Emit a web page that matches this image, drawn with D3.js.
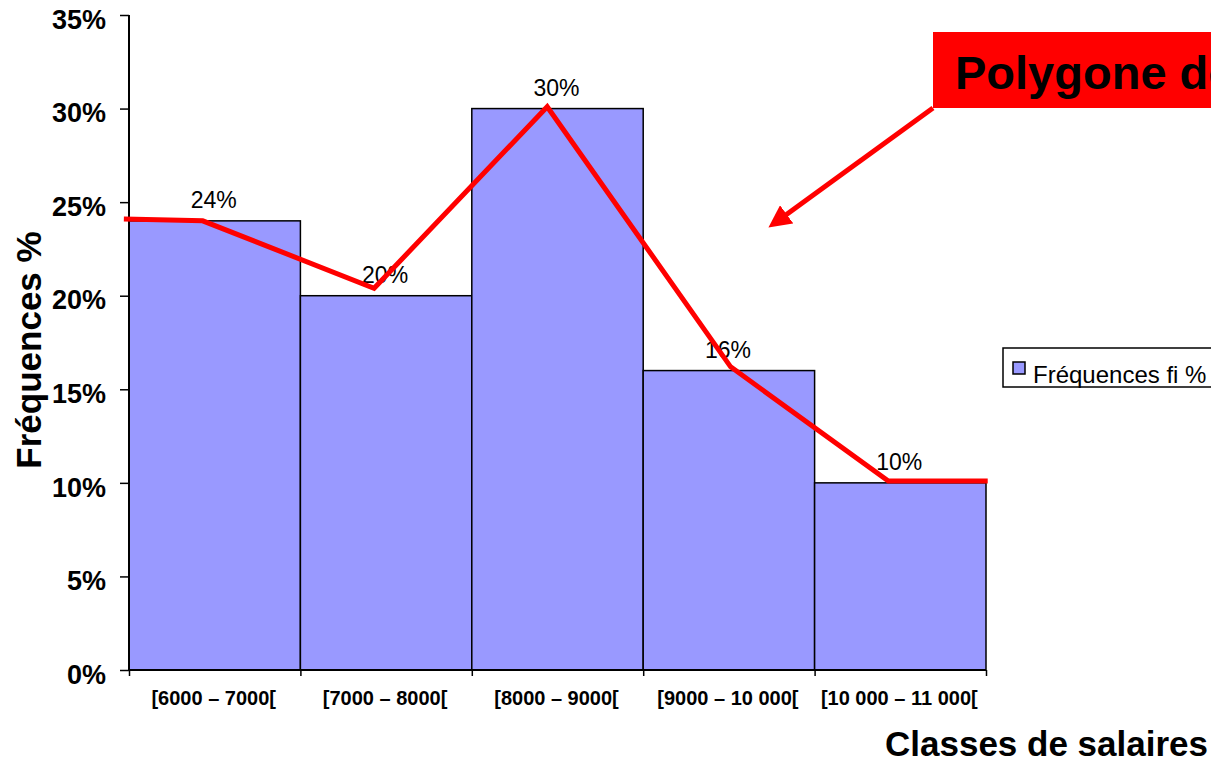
<!DOCTYPE html>
<meta charset="utf-8">
<style>
body { margin: 0; background: #fff; }
svg { font-family: "Liberation Sans", Arial, sans-serif; }
.bar { fill: #9999ff; stroke: #000; stroke-width: 1.5; }
</style>
<body>
<script src="https://cdnjs.cloudflare.com/ajax/libs/d3/7.8.5/d3.min.js"></script>
<script>
// data
var classes = ["[6000 – 7000[", "[7000 – 8000[", "[8000 – 9000[", "[9000 – 10 000[", "[10 000 – 11 000["];
var freq = [24, 20, 30, 16, 10];
var yTicks = [0, 5, 10, 15, 20, 25, 30, 35];
// polygon drawn by hand over the bars (x in class units, y in %)
var polyX = [-0.03, 0.43, 1.43, 2.44, 3.51, 4.43, 5.01];
var polyY = [24.1, 24.0, 20.4, 30.1, 16.2, 10.1, 10.1];

var width = 1211, height = 762;

var svg = d3.select("body").append("svg")
    .attr("width", width)
    .attr("height", height);

var x = d3.scaleLinear().domain([0, 5]).range([129, 986]);
var y = d3.scaleLinear().domain([0, 35]).range([670, 15]);

// bars
svg.selectAll(".bar")
    .data(freq)
  .enter().append("rect")
    .attr("class", "bar")
    .attr("x", function(d, i) { return x(i); })
    .attr("y", function(d) { return y(d); })
    .attr("width", function(d, i) { return x(i + 1) - x(i); })
    .attr("height", function(d) { return y(0) - y(d); });

// value labels
svg.selectAll(".val")
    .data(freq)
  .enter().append("text")
    .attr("class", "val")
    .attr("x", function(d, i) { return x(i + 0.5) - 1; })
    .attr("y", function(d) { return y(d) - 13; })
    .attr("text-anchor", "middle")
    .style("font-size", "23px")
    .text(function(d) { return d + "%"; });

// y axis
var yAxis = d3.axisLeft(y)
    .tickValues(yTicks)
    .tickSize(9)
    .tickPadding(14)
    .tickFormat(function(d) { return d + "%"; });

var gy = svg.append("g")
    .attr("transform", "translate(129,0)")
    .call(yAxis);
gy.select(".domain").attr("d", "M0,15V670").attr("stroke-width", 2);
gy.selectAll(".tick line").attr("stroke-width", 1.5);
gy.selectAll(".tick text")
    .attr("dy", "0.49em")
    .style("font-size", "27px")
    .style("font-weight", "bold")
    .style("font-family", "'Liberation Sans', Arial, sans-serif")
    .attr("fill", "#000");

// x axis
var xAxis = d3.axisBottom(x)
    .tickValues([0, 1, 2, 3, 4, 5])
    .tickSize(6)
    .tickFormat("");
var gx = svg.append("g")
    .attr("transform", "translate(0,670)")
    .call(xAxis);
gx.select(".domain").attr("d", "M129,0H986").attr("stroke-width", 2);
gx.selectAll(".tick line").attr("stroke-width", 1.5);

svg.selectAll(".cls")
    .data(classes)
  .enter().append("text")
    .attr("class", "cls")
    .attr("x", function(d, i) { return x(i + 0.5) - 1; })
    .attr("y", 705)
    .attr("text-anchor", "middle")
    .style("font-size", "20px")
    .style("font-weight", "bold")
    .text(function(d) { return d; });

// axis titles
svg.append("text")
    .attr("transform", "translate(41,350) rotate(-90)")
    .attr("text-anchor", "middle")
    .style("font-size", "35px")
    .style("font-weight", "bold")
    .text("Fréquences %");

svg.append("text")
    .attr("x", 1208)
    .attr("y", 756)
    .attr("text-anchor", "end")
    .style("font-size", "35px")
    .style("font-weight", "bold")
    .text("Classes de salaires");

// frequency polygon
var line = d3.line()
    .x(function(d) { return x(d[0]); })
    .y(function(d) { return y(d[1]); });

svg.append("path")
    .datum(d3.zip(polyX, polyY))
    .attr("d", line)
    .attr("fill", "none")
    .attr("stroke", "#ff0000")
    .attr("stroke-width", 5);

// legend
svg.append("rect")
    .attr("x", 1003).attr("y", 348)
    .attr("width", 240).attr("height", 39)
    .attr("fill", "#fff")
    .attr("stroke", "#000")
    .attr("stroke-width", 1.5);
svg.append("rect")
    .attr("x", 1013).attr("y", 362)
    .attr("width", 12).attr("height", 12)
    .attr("fill", "#9999ff")
    .attr("stroke", "#000")
    .attr("stroke-width", 1.5);
svg.append("text")
    .attr("x", 1033).attr("y", 383)
    .style("font-size", "24px")
    .text("Fréquences fi %");

// callout
svg.append("defs").append("marker")
    .attr("id", "head")
    .attr("viewBox", "0 0 10 10")
    .attr("refX", 2).attr("refY", 5)
    .attr("markerWidth", 4.5).attr("markerHeight", 4.5)
    .attr("orient", "auto")
  .append("path")
    .attr("d", "M0,0L10,5L0,10z")
    .attr("fill", "#ff0000");

svg.append("line")
    .attr("x1", 933).attr("y1", 108)
    .attr("x2", 783).attr("y2", 217)
    .attr("stroke", "#ff0000")
    .attr("stroke-width", 5)
    .attr("marker-end", "url(#head)");

svg.append("rect")
    .attr("x", 933).attr("y", 32)
    .attr("width", 300).attr("height", 76)
    .attr("fill", "#ff0000");
svg.append("text")
    .attr("x", 955).attr("y", 89)
    .style("font-size", "47px")
    .style("font-weight", "bold")
    .text("Polygone des fréquences");
</script>
</body>
